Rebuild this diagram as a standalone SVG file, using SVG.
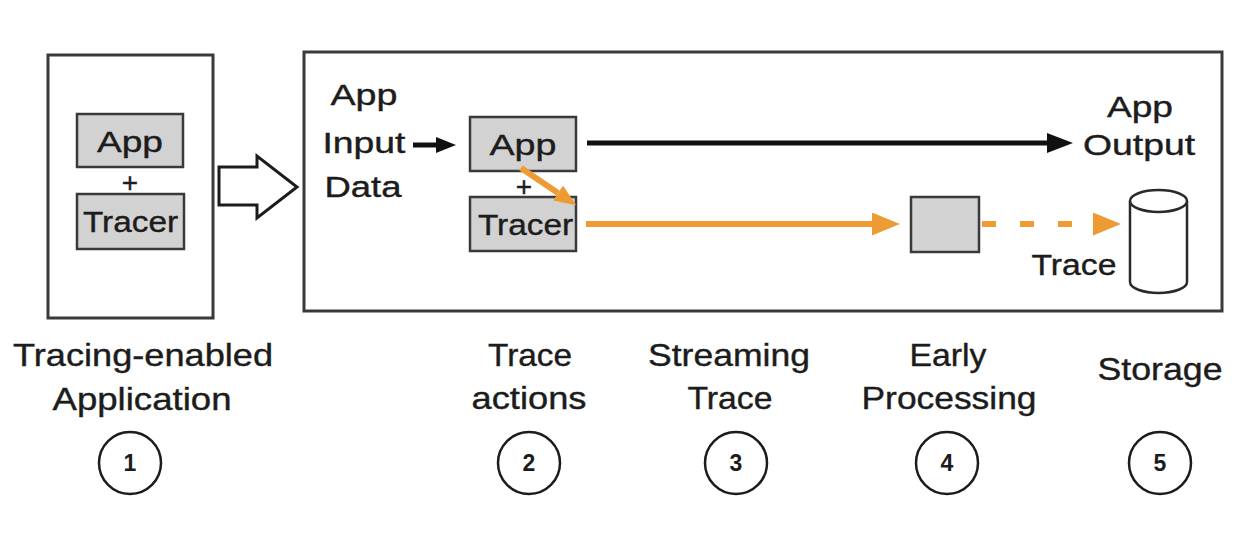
<svg xmlns="http://www.w3.org/2000/svg" width="1260" height="534" viewBox="0 0 1260 534">
<defs>
<style>
.t{font-family:"Liberation Sans",Arial,sans-serif;fill:#1c1c1c;text-anchor:middle;stroke:#1c1c1c;stroke-width:0.4}
.lbl{font-size:32px}
.in{font-size:30px}
.num{font-size:23px;font-weight:bold;stroke-width:0}
.frame{fill:#fff;stroke:#3a3a3a;stroke-width:3}
.gbox{fill:#d2d2d2;stroke:#3a3a3a;stroke-width:2.5}
.circ{fill:none;stroke:#1c1c1c;stroke-width:2.5}
.blk{stroke:#111;stroke-width:5;fill:none}
.org{stroke:#EE9B33;stroke-width:6;fill:none}
</style>
<marker id="ahB" markerUnits="userSpaceOnUse" markerWidth="28" markerHeight="22" refX="0" refY="10" orient="auto"><path d="M0,0 L26,10 L0,20 z" fill="#111"/></marker>
<marker id="ahBs" markerUnits="userSpaceOnUse" markerWidth="22" markerHeight="18" refX="0" refY="8" orient="auto"><path d="M0,0 L20,8 L0,16 z" fill="#111"/></marker>
<marker id="ahO" markerUnits="userSpaceOnUse" markerWidth="30" markerHeight="24" refX="0" refY="11.5" orient="auto"><path d="M0,0 L28,11.5 L0,23 z" fill="#EE9B33"/></marker>
<marker id="ahOs" markerUnits="userSpaceOnUse" markerWidth="24" markerHeight="20" refX="0" refY="9" orient="auto"><path d="M0,0 L22,9 L0,18 z" fill="#EE9B33"/></marker>
</defs>
<rect width="1260" height="534" fill="#fff"/>

<g id="app-left">
<rect class="frame" x="48" y="55" width="165" height="263"/>
<rect class="gbox" x="77" y="114" width="106" height="53"/>
<text class="t in" x="130" y="152" textLength="66" lengthAdjust="spacingAndGlyphs">App</text>
<text class="t" style="font-size:28px" x="130" y="192">+</text>
<rect class="gbox" x="77" y="194" width="107" height="55"/>
<text class="t in" x="130.5" y="232" textLength="95" lengthAdjust="spacingAndGlyphs">Tracer</text>
</g>

<g id="big-arrow">
<path d="M219,167 L257,167 L257,156 L297,187 L257,218 L257,205 L219,205 Z" fill="#fff" stroke="#1c1c1c" stroke-width="3" stroke-linejoin="miter"/>
</g>

<g id="pipeline-frame">
<rect class="frame" x="304" y="52" width="918" height="259"/>
</g>

<g id="input-label">
<text class="t in" x="364" y="105" textLength="67" lengthAdjust="spacingAndGlyphs">App</text>
<text class="t in" x="364" y="153" textLength="83" lengthAdjust="spacingAndGlyphs">Input</text>
<text class="t in" x="363" y="197" textLength="77" lengthAdjust="spacingAndGlyphs">Data</text>
</g>

<g id="app-traced">
<rect class="gbox" x="470" y="117" width="106" height="54"/>
<text class="t in" x="523" y="155" textLength="67" lengthAdjust="spacingAndGlyphs">App</text>
<text class="t" style="font-size:28px" x="524" y="196">+</text>
<rect class="gbox" x="470" y="197" width="106" height="54"/>
<text class="t in" x="525.5" y="235" textLength="95" lengthAdjust="spacingAndGlyphs">Tracer</text>
</g>

<g id="early-processing">
<rect class="gbox" x="911" y="197" width="68" height="55"/>
</g>

<g id="storage">
<path d="M1130,201 L1130,282 A28.5,11 0 0 0 1187,282 L1187,201" fill="#fff" stroke="#2a2a2a" stroke-width="2.5"/>
<ellipse cx="1158.5" cy="201" rx="28.5" ry="11" fill="#fff" stroke="#2a2a2a" stroke-width="2.5"/>
<text class="t in" x="1074" y="275" textLength="85" lengthAdjust="spacingAndGlyphs">Trace</text>
</g>

<g id="output-label">
<text class="t in" x="1140" y="117" textLength="66" lengthAdjust="spacingAndGlyphs">App</text>
<text class="t in" x="1139" y="155" textLength="112" lengthAdjust="spacingAndGlyphs">Output</text>
</g>

<g id="connectors">
<line class="blk" x1="413" y1="145" x2="436" y2="145" marker-end="url(#ahBs)"/>
<line class="blk" x1="587" y1="143" x2="1047" y2="143" marker-end="url(#ahB)"/>
<line class="org" x1="586" y1="224" x2="872" y2="224" marker-end="url(#ahO)"/>
<line class="org" x1="982" y1="224" x2="1093" y2="224" stroke-dasharray="14 24" marker-end="url(#ahO)"/>
<line class="org" x1="521" y1="168" x2="558" y2="193" stroke-width="6" marker-end="url(#ahOs)"/>
</g>

<g id="stage-1">
<text class="t lbl" x="143" y="366" textLength="260" lengthAdjust="spacingAndGlyphs">Tracing-enabled</text>
<text class="t lbl" x="142" y="410" textLength="179" lengthAdjust="spacingAndGlyphs">Application</text>
<circle class="circ" cx="130" cy="463" r="31"/>
<text class="t num" x="130" y="471">1</text>
</g>
<g id="stage-2">
<text class="t lbl" x="530" y="366" textLength="84" lengthAdjust="spacingAndGlyphs">Trace</text>
<text class="t lbl" x="529" y="409" textLength="115" lengthAdjust="spacingAndGlyphs">actions</text>
<circle class="circ" cx="529" cy="463" r="31"/>
<text class="t num" x="529" y="471">2</text>
</g>
<g id="stage-3">
<text class="t lbl" x="729" y="366" textLength="162" lengthAdjust="spacingAndGlyphs">Streaming</text>
<text class="t lbl" x="730" y="409" textLength="85" lengthAdjust="spacingAndGlyphs">Trace</text>
<circle class="circ" cx="736" cy="463" r="31"/>
<text class="t num" x="736" y="471">3</text>
</g>
<g id="stage-4">
<text class="t lbl" x="948" y="366" textLength="77" lengthAdjust="spacingAndGlyphs">Early</text>
<text class="t lbl" x="949" y="409" textLength="175" lengthAdjust="spacingAndGlyphs">Processing</text>
<circle class="circ" cx="947" cy="463" r="31"/>
<text class="t num" x="947" y="471">4</text>
</g>
<g id="stage-5">
<text class="t lbl" x="1160" y="380" textLength="125" lengthAdjust="spacingAndGlyphs">Storage</text>
<circle class="circ" cx="1160" cy="463" r="31"/>
<text class="t num" x="1160" y="471">5</text>
</g>
</svg>
